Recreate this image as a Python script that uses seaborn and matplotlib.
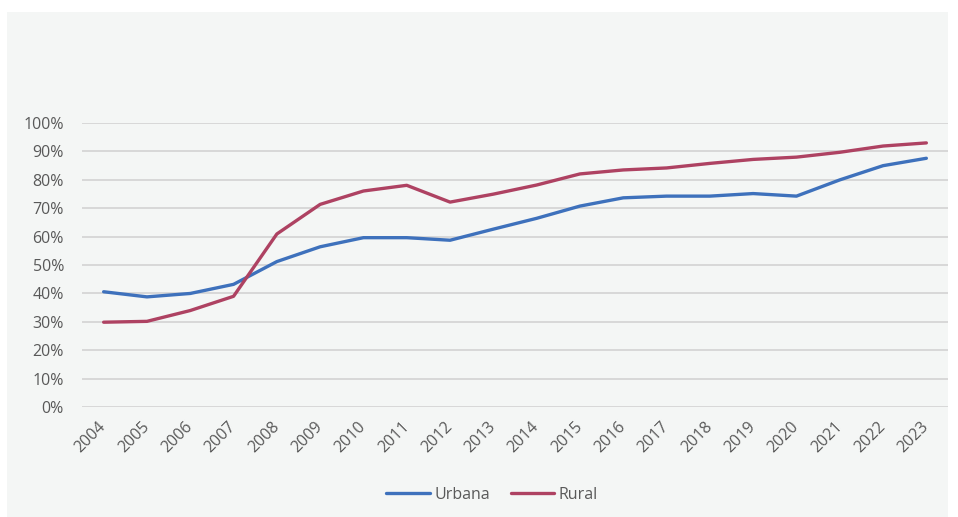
import seaborn as sns
import matplotlib.pyplot as plt
import matplotlib.patches as mpatches
import pandas as pd
from matplotlib.ticker import PercentFormatter

# datos (porcentaje)
years = [str(y) for y in range(2004, 2024)]
urbana = [40.6, 38.8, 40.0, 43.2, 51.2, 56.4, 59.6, 59.6, 58.7, 62.6,
          66.4, 70.7, 73.6, 74.2, 74.2, 75.1, 74.2, 79.9, 84.9, 87.5]
rural = [29.9, 30.2, 34.0, 39.0, 60.9, 71.3, 76.0, 78.0, 72.1, 74.9,
         78.1, 82.0, 83.4, 84.1, 85.7, 87.1, 87.9, 89.6, 91.8, 92.9]

df = pd.DataFrame({
    'Año': years * 2,
    'Valor': urbana + rural,
    'Zona': ['Urbana'] * len(years) + ['Rural'] * len(years),
})

sns.set_style("white")
plt.rcParams['font.family'] = ['Open Sans', 'DejaVu Sans']

W, H = 958, 517
fig = plt.figure(figsize=(W / 100, H / 100), dpi=100, facecolor='white')

# panel de fondo gris claro
fig.patches.append(mpatches.Rectangle((7 / W, 0), (948 - 7) / W, (517 - 12) / H,
                                      transform=fig.transFigure, facecolor='#f4f6f5',
                                      edgecolor='none', zorder=-10))

ax = fig.add_axes([82 / W, (H - 407.3) / H, (948 - 82) / W, (407.3 - 122.7) / H])
ax.set_facecolor('none')

sns.lineplot(data=df, x='Año', y='Valor', hue='Zona', ax=ax,
             palette={'Urbana': '#3e71bc', 'Rural': '#ae4262'},
             linewidth=2.4, sort=False)

ax.set_xlim(-0.5, len(years) - 0.5)
ax.set_ylim(0, 100)
ax.set_yticks(range(0, 101, 10))
ax.yaxis.set_major_formatter(PercentFormatter(decimals=0))
ax.grid(axis='y', color='#d0d0d0', linewidth=1.1)
ax.set_axisbelow(True)
for s in ax.spines.values():
    s.set_visible(False)
ax.set_xlabel('')
ax.set_ylabel('')
ax.tick_params(axis='both', length=0, colors='#595959', labelsize=11.5)
ax.tick_params(axis='y', pad=13)
for lbl in ax.get_xticklabels():
    lbl.set_rotation(45)
    lbl.set_ha('right')
    lbl.set_rotation_mode('anchor')
    lbl.set_va('center')
ax.tick_params(axis='x', pad=12)

handles, labels = ax.get_legend_handles_labels()
ax.legend_.remove()
fig.legend(handles, labels, loc='center', bbox_to_anchor=(492 / W, 1 - 495 / H),
           ncol=2, frameon=False, fontsize=11.5, labelcolor='#595959',
           handlelength=2.75, handletextpad=0.25, columnspacing=1.3)

fig.savefig('out.png', dpi=100, facecolor='white')
